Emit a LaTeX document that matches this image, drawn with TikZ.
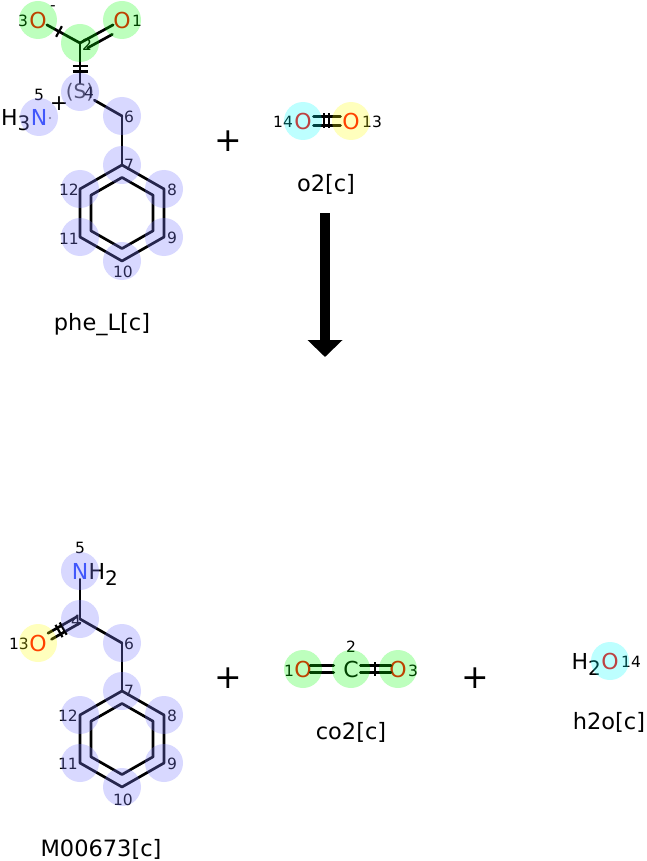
\documentclass[tikz,border=0pt]{standalone}
\usepackage{fontspec}
\setmainfont{DejaVu Sans}
\usetikzlibrary{calc,arrows.meta}
\definecolor{ored}{RGB}{255,0,0}
\definecolor{nblue}{RGB}{40,70,250}
\definecolor{hlgreen}{RGB}{0,255,0}
\definecolor{hllav}{RGB}{128,128,255}
\definecolor{hlcyan}{RGB}{0,255,255}
\definecolor{hlyellow}{RGB}{255,255,0}
\begin{document}
\begin{tikzpicture}[x=1pt,y=-1pt,
  atom/.style={inner sep=0pt, font=\fontsize{22}{22}\selectfont},
  num/.style={inner sep=0pt, font=\fontsize{15.5}{15.5}\selectfont},
  molname/.style={inner sep=0pt, font=\fontsize{22.5}{22.5}\selectfont},
  plussign/.style={inner sep=0pt, font=\fontsize{33}{33}\selectfont},
  bond/.style={line width=2.7pt, line cap=round, line join=round},
  tick/.style={line width=2.2pt},
  hl/.style={fill opacity=0.26},
]
\fill[white] (0,0) rectangle (646,861);
\useasboundingbox (0,0) rectangle (646,861);

% ---------- top molecule: phe_L[c] ----------
\node[atom, text=ored] (tO3) at (38,20) {O};
\node[atom, text=ored] (tO1) at (122,20) {O};
\coordinate (tC2) at (80,43);
\node[inner sep=0pt, font=\fontsize{20}{20}\selectfont, text=black!75] (tC4) at (80,92) {(S)};
\node[atom, text=nblue] (tN5) at (39,117) {N};
\node[atom, anchor=base east] (tH3) at (tN5.base west) {H\raisebox{-5pt}{\fontsize{20}{20}\selectfont 3}};
\coordinate (tC6) at (122,116);
\coordinate (tC7) at (122,165);
\coordinate (tC8) at (164,189);
\coordinate (tC9) at (164,237);
\coordinate (tC10) at (122,261);
\coordinate (tC11) at (80,237);
\coordinate (tC12) at (80,189);
\coordinate (tc) at (122,213);

\draw[bond] (tO3) -- (tC2);
\draw[tick] ($(tO3.center)!0.5!(tC2)+(-2.9,5.3)$) -- ($(tO3.center)!0.5!(tC2)+(2.9,-5.3)$);
\draw[bond] (tC2) -- (tO1);
\draw[bond] ($(tC2)!0.09!(tO1.center)+(3.8,7)$) -- ($(tC2)!0.68!(tO1.center)+(3.8,7)$);
\draw[bond] (tC2) -- (tC4);
\draw[tick] ($(tC2)!0.47!(tC4.center)+(-7.5,0)$) -- ($(tC2)!0.47!(tC4.center)+(7.5,0)$);
\draw[tick] ($(tC2)!0.58!(tC4.center)+(-7.5,0)$) -- ($(tC2)!0.58!(tC4.center)+(7.5,0)$);
\draw[bond] (tC4) -- (tC6);
\draw[bond] (tC6) -- (tC7);
\draw[bond] (tC7) -- (tC8) -- (tC9) -- (tC10) -- (tC11) -- (tC12) -- cycle;
\draw[bond] ($(tc)!0.74!(tC7)$) -- ($(tc)!0.74!(tC8)$) -- ($(tc)!0.74!(tC9)$) -- ($(tc)!0.74!(tC10)$) -- ($(tc)!0.74!(tC11)$) -- ($(tc)!0.74!(tC12)$) -- cycle;

\node[atom] (tplus) at (59,104) {+};
\node[circle, fill=black!55, inner sep=0.8pt] (tdot) at (50,118) {};
\node[num] (tminus) at (53,8) {-};
\node[num] (tl3) at (23,21) {3};
\node[num] (tl1) at (137,21) {1};
\node[num] (tl2) at (87,45) {2};
\node[num] (tl4) at (89,93) {4};
\node[num] (tl5) at (39,95) {5};
\node[num] (tl6) at (129,117) {6};
\node[num] (tl7) at (129,165) {7};
\node[num] (tl8) at (172,190) {8};
\node[num] (tl9) at (172,238) {9};
\node[num] (tl10) at (123,272) {10};
\node[num] (tl11) at (69,239) {11};
\node[num] (tl12) at (69,190) {12};
\node[molname] (tname) at (102,325) {phe\_L[c]};

% ---------- o2[c] ----------
\node[atom, text=ored] (oO14) at (303,121) {O};
\node[atom, text=ored] (oO13) at (351,121) {O};
\draw[bond] ($(oO14.center)!0.22!(oO13.center)+(0,-4.5)$) -- ($(oO14.center)!0.78!(oO13.center)+(0,-4.5)$);
\draw[bond] ($(oO14.center)!0.22!(oO13.center)+(0,4.5)$) -- ($(oO14.center)!0.78!(oO13.center)+(0,4.5)$);
\draw[tick] ($(oO14.center)!0.44!(oO13.center)+(0,-7.5)$) -- ($(oO14.center)!0.44!(oO13.center)+(0,7.5)$);
\draw[tick] ($(oO14.center)!0.54!(oO13.center)+(0,-7.5)$) -- ($(oO14.center)!0.54!(oO13.center)+(0,7.5)$);
\node[num] (ol14) at (283,122) {14};
\node[num] (ol13) at (372,122) {13};
\node[molname] (oname) at (326,184) {o2[c]};

\node[plussign] (p1) at (228,141) {+};

% ---------- reaction arrow ----------
\coordinate (arrS) at (325,213);
\coordinate (arrE) at (325,357);
\draw[line width=10pt, -{Triangle[width=34pt,length=17pt]}] (arrS) -- (arrE);

% ---------- bottom molecule: M00673[c] ----------
\node[atom, text=nblue] (bN5) at (80,571) {N};
\node[atom, anchor=base west] (bH2) at (bN5.base east) {H\raisebox{-6pt}{\fontsize{20}{20}\selectfont 2}};
\coordinate (bC4) at (80,619);
\node[atom, text=ored] (bO13) at (38,643) {O};
\coordinate (bC6) at (122,643);
\coordinate (bC7) at (122,691);
\coordinate (bC8) at (164,715);
\coordinate (bC9) at (164,763);
\coordinate (bC10) at (122,787);
\coordinate (bC11) at (80,763);
\coordinate (bC12) at (80,715);
\coordinate (bc) at (122,739);

\draw[bond] (bN5) -- (bC4);
\draw[bond] ($(bC4)!0.04!(bO13.center)+(1.74,3.04)$) -- ($(bC4)!0.72!(bO13.center)+(1.74,3.04)$);
\draw[bond] ($(bC4)!0.04!(bO13.center)+(-1.74,-3.04)$) -- ($(bC4)!0.72!(bO13.center)+(-1.74,-3.04)$);
\draw[tick] ($(bC4)!0.4!(bO13.center)+(3.5,6.1)$) -- ($(bC4)!0.4!(bO13.center)+(-3.5,-6.1)$);
\draw[tick] ($(bC4)!0.5!(bO13.center)+(3.5,6.1)$) -- ($(bC4)!0.5!(bO13.center)+(-3.5,-6.1)$);
\draw[bond] (bC4) -- (bC6);
\draw[bond] (bC6) -- (bC7);
\draw[bond] (bC7) -- (bC8) -- (bC9) -- (bC10) -- (bC11) -- (bC12) -- cycle;
\draw[bond] ($(bc)!0.74!(bC7)$) -- ($(bc)!0.74!(bC8)$) -- ($(bc)!0.74!(bC9)$) -- ($(bc)!0.74!(bC10)$) -- ($(bc)!0.74!(bC11)$) -- ($(bc)!0.74!(bC12)$) -- cycle;

\node[num] (bl5) at (80,548) {5};
\node[num] (bl4) at (76,621) {4};
\node[num] (bl13) at (19,644) {13};
\node[num] (bl6) at (129,644) {6};
\node[num] (bl7) at (129,691) {7};
\node[num] (bl8) at (172,716) {8};
\node[num] (bl9) at (172,764) {9};
\node[num] (bl10) at (123,800) {10};
\node[num] (bl11) at (68,764) {11};
\node[num] (bl12) at (68,716) {12};
\node[molname] (bname) at (101,849) {M00673[c]};

\node[plussign] (p2) at (228,678) {+};

% ---------- co2[c] ----------
\node[atom, text=ored] (cO1) at (303,669) {O};
\node[atom] (cC2) at (351,669) {C};
\node[atom, text=ored] (cO3) at (398,669) {O};
\draw[bond] ($(cO1.center)!0.15!(cC2.center)+(0,-3.5)$) -- ($(cO1.center)!0.64!(cC2.center)+(0,-3.5)$);
\draw[bond] ($(cO1.center)!0.15!(cC2.center)+(0,3.5)$) -- ($(cO1.center)!0.64!(cC2.center)+(0,3.5)$);
\draw[bond] ($(cC2.center)!0.2!(cO3.center)+(0,-3.5)$) -- ($(cC2.center)!0.85!(cO3.center)+(0,-3.5)$);
\draw[bond] ($(cC2.center)!0.2!(cO3.center)+(0,3.5)$) -- ($(cC2.center)!0.85!(cO3.center)+(0,3.5)$);
\draw[tick] ($(cC2.center)!0.51!(cO3.center)+(0,-7)$) -- ($(cC2.center)!0.51!(cO3.center)+(0,7)$);
\node[num] (cl2) at (351,647) {2};
\node[num] (cl1) at (289,671) {1};
\node[num] (cl3) at (413,671) {3};
\node[molname] (cname) at (351,732) {co2[c]};

\node[plussign] (p3) at (475,678) {+};

% ---------- h2o[c] ----------
\node[atom, text=ored] (hO14) at (610,661) {O};
\node[atom, anchor=base east] (hH2) at (hO14.base west) {H\raisebox{-6pt}{\fontsize{20}{20}\selectfont 2}};
\node[num] (hl14) at (631,662) {14};
\node[molname] (hname) at (609,722) {h2o[c]};

% ---------- highlight circles ----------
\foreach \n in {tO3,tO1,tC2,cO1,cC2,cO3}
  \fill[hlgreen, hl] (\n.center) circle (19pt);
\foreach \n in {tC4,tN5,tC6,tC7,tC8,tC9,tC10,tC11,tC12,bN5,bC4,bC6,bC7,bC8,bC9,bC10,bC11,bC12}
  \fill[hllav, fill opacity=0.3] (\n.center) circle (19pt);
\foreach \n in {oO14,hO14}
  \fill[hlcyan, hl] (\n.center) circle (19pt);
\foreach \n in {oO13,bO13}
  \fill[hlyellow, hl] (\n.center) circle (19pt);
\end{tikzpicture}
\end{document}
